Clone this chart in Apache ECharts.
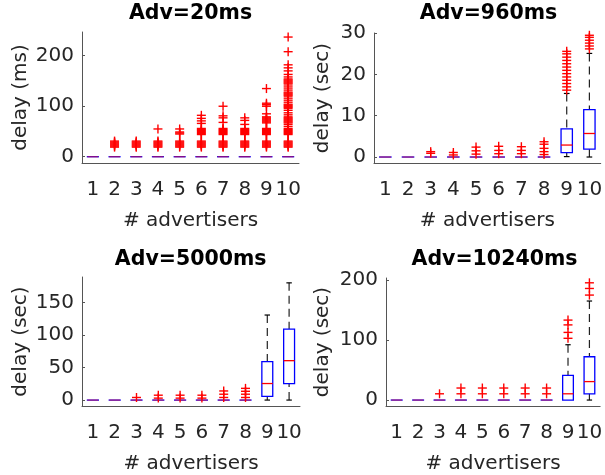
<!DOCTYPE html>
<html>
<head>
<meta charset="utf-8">
<script src="https://cdn.jsdelivr.net/npm/echarts@6.0.0/dist/echarts.min.js"></script>
<style>
  html, body { margin: 0; padding: 0; background: #fff; }
  #chart { width: 605px; height: 475px; }
</style>
</head>
<body>
<div id="chart"></div>
<script>
const categories = ['1', '2', '3', '4', '5', '6', '7', '8', '9', '10'];

// box stats per category: [min, q1, median, q3, max]
const box20 = [
  [0, 0, 0, 0, 0], [0, 0, 0, 0, 0], [0, 0, 0, 0, 0], [0, 0, 0, 0, 0], [0, 0, 0, 0, 0],
  [0, 0, 0, 0, 0], [0, 0, 0, 0, 0], [0, 0, 0, 0, 0], [0, 0, 0, 0, 0], [0, 0, 0, 0, 0]
];
const out20 = [
  [],
  [19, 21, 23, 25, 27, 29, 31],
  [19, 21, 23, 25, 27, 29, 31],
  [19, 21, 23, 25, 27, 29, 31, 55],
  [19, 21, 23, 25, 27, 29, 31, 45, 47, 49, 55],
  [19, 21, 23, 25, 27, 29, 31, 44, 46, 48, 50, 52, 54, 56, 66, 71, 76, 82],
  [19, 21, 23, 25, 27, 29, 31, 44, 46, 48, 50, 52, 54, 56, 68, 77, 81, 100],
  [19, 21, 23, 25, 27, 29, 31, 44, 46, 48, 50, 52, 54, 56, 64, 72, 77],
  [19, 21, 23, 25, 27, 29, 31, 44, 46, 48, 50, 52, 54, 56, 67, 69, 71, 73, 75, 77, 79, 85, 100, 103, 106, 135],
  [19, 21, 23, 25, 27, 29, 31, 44, 46, 48, 50, 52, 54, 56, 60, 64, 67, 69, 71, 73, 75, 77, 79, 83, 87, 92, 96,
   98, 100, 102, 104, 108, 112, 116, 120, 122, 124, 126, 128, 132, 136, 140, 144, 146, 148, 150, 152, 154,
   158, 163, 170, 176, 182, 208, 237]
];
const ticks20 = [0, 100, 200];

const box960 = [
  [0, 0, 0, 0, 0], [0, 0, 0, 0, 0], [0, 0, 0, 0, 0], [0, 0, 0, 0, 0], [0, 0, 0, 0, 0],
  [0, 0, 0, 0, 0], [0, 0, 0, 0, 0], [0, 0, 0, 0, 0],
  [0.1, 1.05, 2.9, 6.8, 15.4],
  [0, 1.9, 5.7, 11.5, 25.1]
];
const out960 = [
  [], [],
  [0.9, 1.3],
  [0.5, 1.1],
  [0.7, 1.5, 2.4],
  [0.8, 1.6, 2.6],
  [0.8, 1.6, 2.5],
  [0.6, 1.3, 2.1, 3.1, 3.7],
  [16.2, 17.0, 17.8, 18.6, 19.4, 20.2, 21.0, 21.8, 22.6, 23.4, 24.2, 25.0, 25.6],
  [26.2, 26.9, 27.6, 28.3, 29.0, 29.5]
];
const ticks960 = [0, 10, 20, 30];

const box5000 = [
  [0, 0, 0, 0, 0], [0, 0, 0, 0, 0], [0, 0, 0, 0, 0], [0, 0, 0, 0, 0], [0, 0, 0, 0, 0],
  [0, 0, 0, 0, 0], [0, 0, 0, 0, 0], [0, 0, 0, 0, 0],
  [0, 5.6, 25.4, 59, 130.6],
  [0, 25.4, 60.5, 109, 180]
];
const out5000 = [
  [], [],
  [4],
  [3, 7.5],
  [3, 7.5],
  [3, 7.5],
  [4, 9, 14],
  [4, 9, 13.5, 18],
  [], []
];
const ticks5000 = [0, 50, 100, 150];

const box10240 = [
  [0, 0, 0, 0, 0], [0, 0, 0, 0, 0], [0, 0, 0, 0, 0], [0, 0, 0, 0, 0], [0, 0, 0, 0, 0],
  [0, 0, 0, 0, 0], [0, 0, 0, 0, 0], [0, 0, 0, 0, 0],
  [0, 0, 10.4, 41, 92],
  [0, 10.4, 30.7, 72, 164.7]
];
const out10240 = [
  [], [],
  [10.4],
  [10.4, 20],
  [10.4, 20],
  [10.4, 20],
  [10.4, 20],
  [10.4, 20],
  [102.7, 112.5, 125, 133],
  [174.6, 185.6, 195]
];
const ticks10240 = [0, 100, 200];

const panels = [
  { title: 'Adv=20ms', yName: 'delay (ms)', box: box20, out: out20, ticks: ticks20, min: -12.4, max: 247,
    grid: { left: 82, top: 32, width: 217, height: 131 }, nameGap: 51, tx: 190.5, ty: 14 },
  { title: 'Adv=960ms', yName: 'delay (sec)', box: box960, out: out960, ticks: ticks960, min: -1.45, max: 30.05,
    grid: { left: 374, top: 33, width: 229, height: 130 }, nameGap: 41, tx: 488.5, ty: 14 },
  { title: 'Adv=5000ms', yName: 'delay (sec)', box: box5000, out: out5000, ticks: ticks5000, min: -9.1, max: 189,
    grid: { left: 82, top: 277, width: 218, height: 130 }, nameGap: 51, tx: 190.7, ty: 260 },
  { title: 'Adv=10240ms', yName: 'delay (sec)', box: box10240, out: out10240, ticks: ticks10240, min: -9.9, max: 203,
    grid: { left: 386, top: 278, width: 217, height: 129 }, nameGap: 53, tx: 494.5, ty: 260 }
];

const FONT = 'DejaVu Sans';
const FS = 20;
const TEXT = '#262626';
const AXIS = '#555';

function renderBox(params, api) {
  const x = api.value(0);
  const lo = api.value(1), q1 = api.value(2), med = api.value(3), q3 = api.value(4), hi = api.value(5);
  const bw = api.size([1, 0])[0];
  const half = bw * 0.25, cap = bw * 0.125;
  const pLo = api.coord([x, lo]), pQ1 = api.coord([x, q1]), pMed = api.coord([x, med]);
  const pQ3 = api.coord([x, q3]), pHi = api.coord([x, hi]);
  const cx = pMed[0];
  const dash = { stroke: '#222', lineWidth: 1.2, lineDash: [8, 5] };
  const solid = { stroke: '#000', lineWidth: 1.2 };
  const children = [];
  if (hi > q3) {
    children.push({ type: 'line', shape: { x1: cx, y1: pHi[1], x2: cx, y2: pQ3[1] }, style: dash });
    children.push({ type: 'line', shape: { x1: cx - cap, y1: pHi[1], x2: cx + cap, y2: pHi[1] }, style: solid });
  }
  if (lo < q1) {
    children.push({ type: 'line', shape: { x1: cx, y1: pLo[1], x2: cx, y2: pQ1[1] }, style: dash });
    children.push({ type: 'line', shape: { x1: cx - cap, y1: pLo[1], x2: cx + cap, y2: pLo[1] }, style: solid });
  }
  children.push({
    type: 'rect',
    shape: { x: cx - half, y: pQ3[1], width: half * 2, height: Math.max(pQ1[1] - pQ3[1], 0.01) },
    style: { fill: 'none', stroke: '#0000ff', lineWidth: 1.3 }
  });
  children.push({
    type: 'line',
    shape: { x1: cx - half, y1: pMed[1], x2: cx + half, y2: pMed[1] },
    style: { stroke: '#ff0000', lineWidth: 1.3, opacity: q1 === q3 ? 0.5 : 1 }
  });
  return { type: 'group', children };
}

function renderPlus(params, api) {
  const p = api.coord([api.value(0), api.value(1)]);
  const r = 4.5;
  const st = { stroke: '#ff0000', lineWidth: 1.4 };
  return {
    type: 'group',
    children: [
      { type: 'line', shape: { x1: p[0] - r, y1: p[1], x2: p[0] + r, y2: p[1] }, style: st },
      { type: 'line', shape: { x1: p[0], y1: p[1] - r, x2: p[0], y2: p[1] + r }, style: st }
    ]
  };
}

const grid = [], xAxis = [], yAxis = [], series = [], graphic = [];
panels.forEach((pn, i) => {
  grid.push(pn.grid);
  xAxis.push({
    gridIndex: i, type: 'category', data: categories, boundaryGap: true,
    axisLine: { onZero: false, lineStyle: { color: AXIS, width: 1 } },
    axisTick: { inside: true, alignWithLabel: true, length: 3, lineStyle: { color: AXIS } },
    axisLabel: { interval: 0, margin: 17, fontSize: FS, fontFamily: FONT, color: TEXT },
    splitLine: { show: false },
    name: '# advertisers', nameLocation: 'middle', nameGap: 48,
    nameTextStyle: { fontSize: FS, fontFamily: FONT, color: TEXT }
  });
  yAxis.push({
    gridIndex: i, type: 'value', min: pn.min, max: pn.max,
    axisLine: { show: true, lineStyle: { color: AXIS, width: 1 } },
    axisTick: { show: true, inside: true, length: 3, customValues: pn.ticks, lineStyle: { color: AXIS } },
    axisLabel: { customValues: pn.ticks, margin: 8, fontSize: FS, fontFamily: FONT, color: TEXT },
    splitLine: { show: false },
    name: pn.yName, nameLocation: 'middle', nameGap: pn.nameGap,
    nameTextStyle: { fontSize: FS, fontFamily: FONT, color: TEXT }
  });
  series.push({
    type: 'custom', xAxisIndex: i, yAxisIndex: i, renderItem: renderBox,
    encode: { x: 0, y: [1, 2, 3, 4, 5] },
    data: pn.box.map((b, k) => [k].concat(b)),
    silent: true, z: 2
  });
  const pts = [];
  pn.out.forEach((vals, k) => vals.forEach(v => pts.push([k, v])));
  series.push({
    type: 'custom', xAxisIndex: i, yAxisIndex: i, renderItem: renderPlus,
    encode: { x: 0, y: 1 },
    data: pts, silent: true, z: 3
  });
  graphic.push({
    type: 'text', x: pn.tx, y: pn.ty,
    style: { text: pn.title, align: 'center', verticalAlign: 'middle',
      font: 'bold 20.5px "DejaVu Sans"', fill: '#000' }
  });
});

const chart = echarts.init(document.getElementById('chart'), null, { renderer: 'canvas' });
chart.setOption({
  animation: false,
  backgroundColor: '#fff',
  grid, xAxis, yAxis, series, graphic
});
</script>
</body>
</html>
